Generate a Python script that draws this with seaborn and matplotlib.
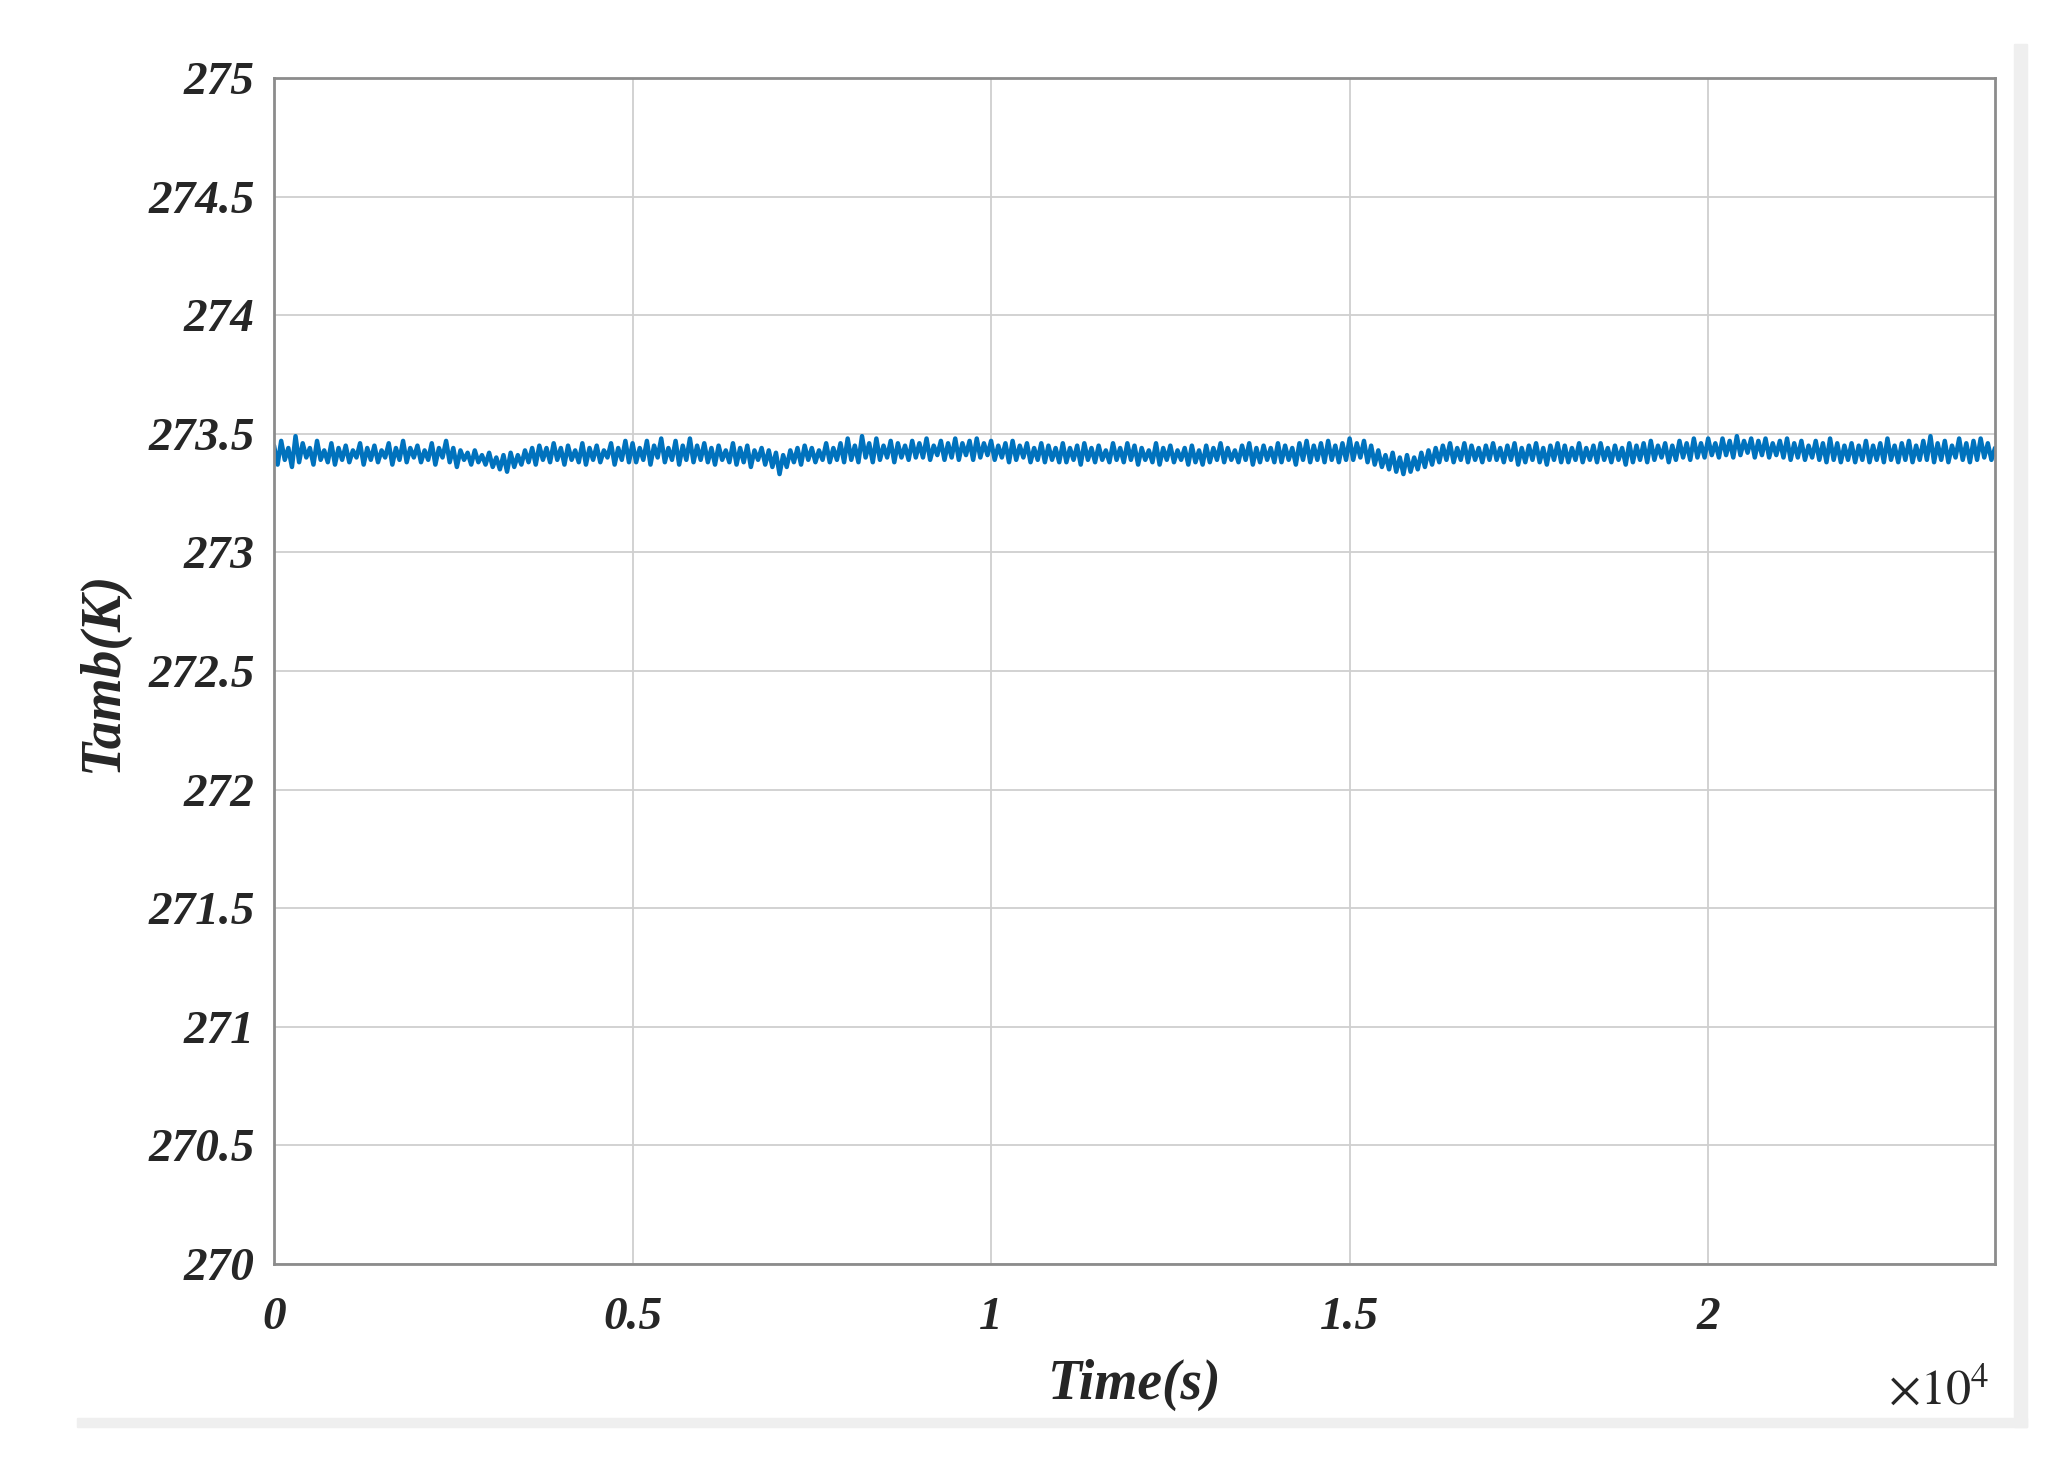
import numpy as np
import pandas as pd
import matplotlib
matplotlib.use("Agg")
import matplotlib.pyplot as plt
from matplotlib.patches import Rectangle
import seaborn as sns

# Temperatura ambiente (K), una muestra cada 50 s
tamb = [
    273.45, 273.37, 273.47, 273.39, 273.44, 273.36, 273.49, 273.38, 273.46, 273.40, 273.44, 273.37, 273.47, 273.39, 273.43, 273.38, 273.46, 273.37, 273.44, 273.39,
    273.45, 273.38, 273.43, 273.40, 273.46, 273.37, 273.44, 273.39, 273.45, 273.38, 273.43, 273.40, 273.46, 273.37, 273.44, 273.39, 273.47, 273.38, 273.44, 273.40,
    273.45, 273.38, 273.43, 273.39, 273.46, 273.37, 273.44, 273.40, 273.47, 273.38, 273.44, 273.36, 273.43, 273.39, 273.42, 273.37, 273.43, 273.38, 273.41, 273.37,
    273.42, 273.36, 273.40, 273.35, 273.41, 273.34, 273.42, 273.36, 273.41, 273.37, 273.43, 273.38, 273.44, 273.37, 273.45, 273.39, 273.44, 273.38, 273.46, 273.39,
    273.44, 273.37, 273.45, 273.39, 273.43, 273.38, 273.46, 273.37, 273.44, 273.39, 273.45, 273.38, 273.43, 273.40, 273.46, 273.37, 273.44, 273.39, 273.47, 273.38,
    273.46, 273.38, 273.44, 273.39, 273.47, 273.37, 273.45, 273.40, 273.48, 273.38, 273.44, 273.39, 273.47, 273.37, 273.45, 273.39, 273.48, 273.38, 273.45, 273.39,
    273.46, 273.38, 273.44, 273.37, 273.45, 273.39, 273.43, 273.38, 273.46, 273.37, 273.44, 273.38, 273.45, 273.36, 273.43, 273.39, 273.44, 273.37, 273.43, 273.36,
    273.42, 273.33, 273.41, 273.36, 273.43, 273.38, 273.44, 273.37, 273.45, 273.39, 273.44, 273.38, 273.43, 273.39, 273.46, 273.38, 273.44, 273.39, 273.46, 273.38,
    273.48, 273.39, 273.45, 273.38, 273.49, 273.40, 273.46, 273.38, 273.48, 273.39, 273.45, 273.40, 273.47, 273.38, 273.46, 273.40, 273.45, 273.39, 273.47, 273.40,
    273.46, 273.40, 273.48, 273.39, 273.45, 273.41, 273.47, 273.39, 273.46, 273.40, 273.48, 273.39, 273.46, 273.41, 273.47, 273.39, 273.48, 273.40, 273.46, 273.41,
    273.47, 273.39, 273.45, 273.40, 273.46, 273.38, 273.47, 273.39, 273.45, 273.40, 273.46, 273.38, 273.44, 273.39, 273.46, 273.38, 273.45, 273.39, 273.44, 273.38,
    273.46, 273.38, 273.44, 273.39, 273.45, 273.37, 273.46, 273.39, 273.44, 273.38, 273.45, 273.39, 273.43, 273.38, 273.46, 273.39, 273.44, 273.38, 273.46, 273.39,
    273.45, 273.37, 273.44, 273.39, 273.43, 273.38, 273.46, 273.37, 273.44, 273.39, 273.45, 273.38, 273.43, 273.39, 273.44, 273.37, 273.45, 273.38, 273.43, 273.37,
    273.45, 273.38, 273.44, 273.39, 273.46, 273.38, 273.44, 273.39, 273.43, 273.38, 273.45, 273.39, 273.46, 273.37, 273.44, 273.38, 273.45, 273.39, 273.44, 273.38,
    273.46, 273.38, 273.45, 273.39, 273.44, 273.37, 273.46, 273.39, 273.47, 273.38, 273.45, 273.39, 273.46, 273.38, 273.47, 273.39, 273.45, 273.38, 273.46, 273.39,
    273.48, 273.39, 273.46, 273.40, 273.47, 273.38, 273.45, 273.37, 273.43, 273.36, 273.41, 273.35, 273.42, 273.34, 273.40, 273.33, 273.41, 273.34, 273.40, 273.35,
    273.42, 273.36, 273.43, 273.37, 273.44, 273.38, 273.45, 273.39, 273.46, 273.38, 273.44, 273.39, 273.46, 273.38, 273.45, 273.39, 273.44, 273.38, 273.45, 273.39,
    273.46, 273.39, 273.44, 273.38, 273.45, 273.39, 273.46, 273.37, 273.44, 273.38, 273.45, 273.39, 273.46, 273.38, 273.44, 273.37, 273.45, 273.39, 273.46, 273.38,
    273.45, 273.38, 273.44, 273.39, 273.46, 273.38, 273.44, 273.39, 273.45, 273.38, 273.46, 273.39, 273.44, 273.38, 273.45, 273.39, 273.44, 273.37, 273.46, 273.38,
    273.45, 273.39, 273.46, 273.38, 273.47, 273.39, 273.45, 273.40, 273.46, 273.38, 273.45, 273.39, 273.47, 273.40, 273.46, 273.39, 273.48, 273.40, 273.46, 273.40,
    273.48, 273.41, 273.46, 273.40, 273.48, 273.41, 273.47, 273.40, 273.49, 273.41, 273.47, 273.42, 273.48, 273.40, 273.47, 273.41, 273.48, 273.40, 273.46, 273.41,
    273.47, 273.40, 273.48, 273.39, 273.46, 273.40, 273.47, 273.39, 273.45, 273.40, 273.47, 273.39, 273.46, 273.38, 273.48, 273.39, 273.46, 273.38, 273.45, 273.39,
    273.46, 273.38, 273.45, 273.39, 273.47, 273.38, 273.45, 273.39, 273.46, 273.38, 273.48, 273.39, 273.45, 273.38, 273.46, 273.39, 273.47, 273.38, 273.45, 273.39,
    273.47, 273.39, 273.49, 273.38, 273.46, 273.39, 273.47, 273.38, 273.45, 273.40, 273.48, 273.39, 273.46, 273.38, 273.47, 273.39, 273.48, 273.40, 273.46, 273.39,
    273.44,
]
t_end = 24000
xtick_vals = [0, 5000, 10000, 15000, 20000]
xtick_labels = ['0', '0.5', '1', '1.5', '2']
ytick_vals = [270, 270.5, 271, 271.5, 272, 272.5, 273, 273.5, 274, 274.5, 275]
ytick_labels = ['270', '270.5', '271', '271.5', '272', '272.5', '273', '273.5', '274', '274.5', '275']

df = pd.DataFrame({'Time': np.linspace(0, t_end, len(tamb)), 'Tamb': tamb})

sns.set_style("white")
plt.rcParams['font.family'] = ['Liberation Serif', 'DejaVu Serif']
plt.rcParams['mathtext.fontset'] = 'stix'

fig = plt.figure(figsize=(20.68, 14.76), dpi=100)
ax = fig.add_axes([0.1325, 0.1436, 0.8322, 0.8036])

sns.lineplot(data=df, x='Time', y='Tamb', ax=ax, color='#0072BD', linewidth=3.2)

ax.set_xlim(0, t_end)
ax.set_ylim(270, 275)
ax.set_xticks(xtick_vals)
ax.set_xticklabels(xtick_labels, fontsize=34, fontweight='bold', style='italic')
ax.set_yticks(ytick_vals)
ax.set_yticklabels(ytick_labels, fontsize=34, fontweight='bold', style='italic')
ax.tick_params(axis='x', direction='in', length=8, width=1.2, color='#808080', pad=24)
ax.tick_params(axis='y', direction='in', length=8, width=1.2, color='#808080', pad=14)

ax.grid(True, color='#cfcfcf', linewidth=1.3)
for s in ax.spines.values():
    s.set_color('#8c8c8c')
    s.set_linewidth(2.0)

ax.set_xlabel('Time(s)', fontsize=40, fontweight='bold', style='italic', labelpad=14)
ax.set_ylabel('Tamb(K)', fontsize=40, fontweight='bold', style='italic', labelpad=14)

fig.text(0.962, 0.057, r'$\times\mathit{10}^{\mathit{4}}$', fontsize=36, ha='right', va='center')

# borde gris de la captura original
fig.patches.append(Rectangle((0.974, 0.033), 0.006, 0.937, transform=fig.transFigure,
                             color='#efefef', zorder=0))
fig.patches.append(Rectangle((0.037, 0.033), 0.943, 0.006, transform=fig.transFigure,
                             color='#efefef', zorder=0))

plt.savefig('out.png', dpi=100)
plt.close()
